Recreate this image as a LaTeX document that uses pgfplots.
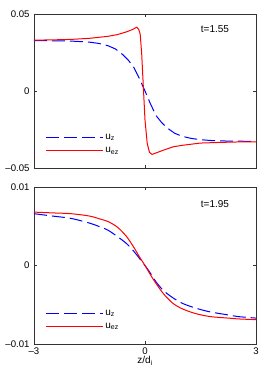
\documentclass[border=0pt]{standalone}
\usepackage{pgfplots}
\pgfplotsset{compat=1.18}
\usepackage{fontspec}
\setmainfont{Liberation Sans}
\begin{document}
\begin{tikzpicture}
\pgfplotsset{
  myax/.style={
    scale only axis, width=222pt,
    xmin=-3, xmax=3,
    xtick={-3,0,3},
    scaled y ticks=false, scaled x ticks=false,
    tick align=inside, tick pos=both,
    major tick length=3pt,
    axis line style={line width=0.9pt, black!80},
    every tick/.style={black!80, line width=0.6pt},
    font=\fontsize{10}{12}\selectfont,
    tick label style={font=\fontsize{9.6}{12}\selectfont},
    yticklabel style={xshift=-1pt},
    /pgf/number format/assume math mode=true,
    legend cell align=left,
    legend image code/.code={\draw[##1] (0pt,0pt) -- (57pt,0pt);},
    legend style={draw=none, fill=none, font=\fontsize{10}{12}\selectfont,
      row sep=2.5pt, inner xsep=0pt, inner ysep=1pt,
      at={(axis description cs:0.05,0.07)}, anchor=south west},
  }
}
\begin{axis}[myax, name=top, at={(0,176pt)}, height=154pt,
  ymin=-0.05, ymax=0.05, ytick={-0.05,0,0.05},
  yticklabels={–0.05,0,0.05}, xticklabels={}]
\addplot[blue, line width=1pt, dash pattern=on 13pt off 5pt] coordinates {
(-3.0,0.0327) (-2.5,0.0326) (-2.0,0.0324) (-1.75,0.0321) (-1.5,0.0317)
(-1.25,0.0309) (-1.0,0.0294) (-0.8,0.0273) (-0.6,0.0236) (-0.45,0.0200)
(-0.3,0.0153) (-0.15,0.0080) (0,0.0) (0.15,-0.0085) (0.3,-0.0160)
(0.45,-0.0205) (0.6,-0.0240) (0.8,-0.0274) (1.0,-0.0294) (1.25,-0.0308)
(1.5,-0.0316) (1.75,-0.0321) (2.0,-0.0324) (2.5,-0.0326) (3.0,-0.0327)};
\addlegendentry{u\textsubscript{z}}
\addplot[red, line width=1pt] coordinates {
(-3.0,0.0330) (-2.5,0.0332) (-2.0,0.0335) (-1.5,0.0342) (-1.0,0.0355)
(-0.75,0.0366) (-0.5,0.0384) (-0.35,0.0398) (-0.27,0.0408) (-0.22,0.0414)
(-0.17,0.0400) (-0.13,0.0370) (-0.09,0.0245) (-0.045,0.0028) (0.0,-0.0188)
(0.06,-0.0340) (0.12,-0.0398) (0.19,-0.0412) (0.3,-0.0402) (0.5,-0.0384)
(0.77,-0.0362) (1.0,-0.0353) (1.5,-0.0338) (2.0,-0.0334) (2.5,-0.0331) (3.0,-0.0330)};
\addlegendentry{u\textsubscript{ez}}
\node at (axis description cs:0.815,0.90) {t=1.55};
\end{axis}
\begin{axis}[myax, name=bot, at={(0,0)}, height=157pt,
  ymin=-0.01, ymax=0.01, ytick={-0.01,0,0.01},
  yticklabels={–0.01,0,0.01}, xticklabels={–3,0,3},
  xlabel={z/d\textsubscript{i}}, xlabel style={yshift=5pt}]
\addplot[blue, line width=1pt, dash pattern=on 13pt off 5pt, smooth] coordinates {
(-3,0.0066) (-2.5,0.0063) (-2,0.0060) (-1.5,0.0054) (-1.2,0.0049)
(-1,0.0045) (-0.75,0.0037) (-0.5,0.0028) (-0.3,0.0018) (-0.15,0.0009)
(0,0) (0.15,-0.0010) (0.3,-0.0021) (0.5,-0.0032) (0.75,-0.0041)
(1.0,-0.0048) (1.35,-0.0054) (1.75,-0.0059) (2.25,-0.0063) (2.5,-0.0065) (3,-0.0067)};
\addlegendentry{u\textsubscript{z}}
\addplot[red, line width=1pt, smooth] coordinates {
(-3,0.0068) (-2.5,0.0067) (-2,0.0066) (-1.5,0.0063) (-1.2,0.0059)
(-1,0.0056) (-0.75,0.0049) (-0.5,0.0037) (-0.3,0.0023) (-0.15,0.0011)
(0,0) (0.15,-0.0012) (0.3,-0.0023) (0.5,-0.0036) (0.75,-0.0048)
(1.0,-0.0055) (1.35,-0.0061) (1.75,-0.0065) (2.25,-0.0067) (2.5,-0.0068) (3,-0.0069)};
\addlegendentry{u\textsubscript{ez}}
\node at (axis description cs:0.815,0.89) {t=1.95};
\end{axis}
\path (-34pt,-37pt) rectangle (232pt,344pt);
\end{tikzpicture}
\end{document}
